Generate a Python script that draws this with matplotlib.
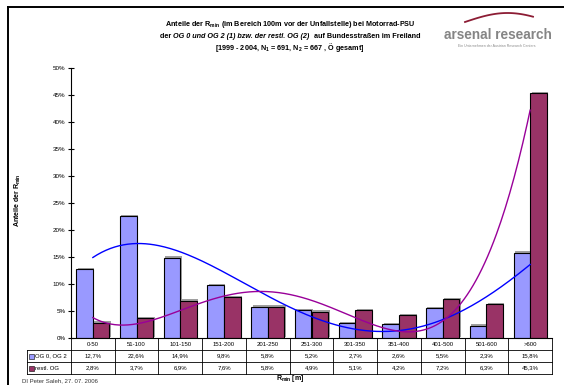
import numpy as np
import matplotlib.pyplot as plt
from matplotlib import patheffects as pe
from matplotlib.lines import Line2D
from matplotlib.patches import Rectangle

plt.rcParams['font.family'] = ['Liberation Sans', 'DejaVu Sans']
plt.rcParams['mathtext.fontset'] = 'custom'
plt.rcParams['mathtext.rm'] = 'Liberation Sans'
plt.rcParams['mathtext.it'] = 'Liberation Sans:italic'
plt.rcParams['mathtext.bf'] = 'Liberation Sans:bold'

categories = ['0-50', '51-100', '101-150', '151-200', '201-250', '251-300',
              '301-350', '351-400', '401-500', '501-600', '>600']
og_0_2 = [12.7, 22.6, 14.9, 9.8, 5.8, 5.2, 2.7, 2.6, 5.5, 2.3, 15.8]
restl_og = [2.8, 3.7, 6.9, 7.6, 5.8, 4.9, 5.1, 4.2, 7.2, 6.3, 45.3]
series_names = ['OG 0, OG 2', 'restl. OG']

blue = '#9999FF'
purple = '#993366'

W, H = 564, 385
fig = plt.figure(figsize=(W / 100, H / 100), dpi=100)

# plot area in pixels
x0, x1, y0, y1 = 71, 552, 68, 338
ax = fig.add_axes([x0 / W, 1 - y1 / H, (x1 - x0) / W, (y1 - y0) / H])

n = len(categories)
x = np.arange(n)
bw = 0.38
shadow = [pe.SimplePatchShadow(offset=(1.0, 1.0), shadow_rgbFace='#777777', alpha=0.7), pe.Normal()]
b1 = ax.bar(x - bw / 2, og_0_2, bw, color=blue, edgecolor='black', linewidth=0.8, zorder=2)
b2 = ax.bar(x + bw / 2, restl_og, bw, color=purple, edgecolor='black', linewidth=0.8, zorder=2)
for b in list(b1) + list(b2):
    b.set_path_effects(shadow)

# polynomial trendlines (like Excel)
xs = np.linspace(0, n - 1, 300)
p1 = np.polyfit(x, og_0_2, 4)
p2 = np.polyfit(x, restl_og, 4)
ax.plot(xs, np.polyval(p1, xs), color='#0000FF', lw=1.0, zorder=3)
ax.plot(xs, np.polyval(p2, xs), color='#990099', lw=1.0, zorder=3)

ax.set_xlim(-0.5, n - 0.5)
ax.set_ylim(0, 50)
ax.set_yticks(np.arange(0, 51, 5))
ax.set_yticklabels([f'{v}%' for v in range(0, 51, 5)])
ax.tick_params(axis='y', direction='inout', length=4, width=0.8, labelsize=4.5, pad=2)
ax.set_xticks([])
for s in ['top', 'right']:
    ax.spines[s].set_visible(False)
ax.spines['left'].set_linewidth(0.8)
ax.spines['bottom'].set_linewidth(0.8)

# data table below the axis
row_h = 12 / (y1 - y0)
lw = 0.6
def hline(y, xa, xb):
    ax.add_line(Line2D([xa, xb], [y, y], transform=ax.transAxes, color='black', lw=lw, clip_on=False))
def vline(xv, ya, yb):
    ax.add_line(Line2D([xv, xv], [ya, yb], transform=ax.transAxes, color='black', lw=lw, clip_on=False))

lab_left = (27 - x0) / (x1 - x0)
hline(-row_h, lab_left, 1)
hline(-2 * row_h, lab_left, 1)
hline(-3 * row_h, lab_left, 1)
for i in range(n + 1):
    vline(i / n, 0, -3 * row_h)
vline(lab_left, -row_h, -3 * row_h)

for i, c in enumerate(categories):
    ax.text((i + 0.5) / n, -0.5 * row_h, c, transform=ax.transAxes, ha='center', va='center', fontsize=4.3)
    ax.text((i + 0.5) / n, -1.5 * row_h, f'{og_0_2[i]:.1f}%'.replace('.', ','), transform=ax.transAxes,
            ha='center', va='center', fontsize=4.3)
    ax.text((i + 0.5) / n, -2.5 * row_h, f'{restl_og[i]:.1f}%'.replace('.', ','), transform=ax.transAxes,
            ha='center', va='center', fontsize=4.3)

sq = 5 / (x1 - x0)
for k, (name, col) in enumerate(zip(series_names, [blue, purple])):
    yc = -(1.5 + k) * row_h
    ax.add_patch(Rectangle((lab_left + 1.5 / (x1 - x0), yc - 2.5 / (y1 - y0)), sq, 5 / (y1 - y0),
                           transform=ax.transAxes, facecolor=col, edgecolor='black', lw=0.4, clip_on=False))
    ax.text(lab_left + 8 / (x1 - x0), yc, name, transform=ax.transAxes, ha='left', va='center', fontsize=4.3)

# labels
fig.text(18 / W, 1 - 200 / H, r'Anteile der R$_{\mathbf{min}}$', rotation=90, ha='center', va='center',
         fontsize=5, fontweight='bold')
fig.text(290 / W, 1 - 379 / H, r'R$_{\mathbf{min}}$ [m]', ha='center', va='center', fontsize=5, fontweight='bold')
fig.text(22 / W, 1 - 381 / H, 'DI Peter Saleh, 27. 07. 2006', ha='left', va='center', fontsize=4.3, color='#333333')

# title
fig.text(290 / W, 1 - 25 / H, r'Anteile der R$_{\mathbf{min}}$ (im Bereich 100m vor der Unfallstelle) bei Motorrad-PSU',
         ha='center', va='center', fontsize=5.2, fontweight='bold')
renderer = fig.canvas.get_renderer()
parts = [('der ', 'normal'), ('OG 0 und OG 2 (1) bzw. der restl. OG (2)', 'italic'),
         ('  auf Bundesstraßen im Freiland', 'normal')]
texts = [fig.text(0, 1 - 36 / H, s, style=st, fontweight='bold', fontsize=5.2, ha='left', va='center')
         for s, st in parts]
widths = [t.get_window_extent(renderer).width for t in texts]
xpos = 290 - sum(widths) / 2
for t, w in zip(texts, widths):
    t.set_x(xpos / W)
    xpos += w
fig.text(290 / W, 1 - 47 / H, r'[1999 - 2004, N$_\mathbf{1}$ = 691, N$_\mathbf{2}$ = 667 , Ö gesamt]',
         ha='center', va='center', fontsize=5.2, fontweight='bold')

# logo
fig.text(498 / W, 1 - 35 / H, 'arsenal research', ha='center', va='center', fontsize=9.8,
         fontweight='bold', color='#858585')
fig.text(497 / W, 1 - 46 / H, 'Ein Unternehmen der Austrian Research Centers', ha='center', va='center',
         fontsize=2.5, color='#8a8a8a')
t = np.linspace(0, 1, 60)
fig.add_artist(Line2D((465 + 68 * t) / W, 1 - (22 - 9 * np.sin(np.pi * t * 0.8)) / H,
                      color='#8c1c34', lw=1.3))

# frame
fig.add_artist(Line2D([8 / W, 8 / W], [0, 1 - 7 / H], color='black', lw=1.4))
fig.add_artist(Line2D([8 / W, 1], [1 - 7 / H, 1 - 7 / H], color='black', lw=1.4))

fig.savefig('out.png', dpi=100)
